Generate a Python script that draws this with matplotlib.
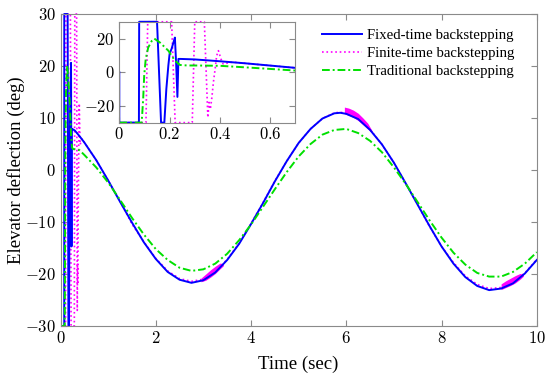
import matplotlib
matplotlib.use('Agg')
import matplotlib.pyplot as plt
from matplotlib.ticker import FuncFormatter
from matplotlib.transforms import Bbox, TransformedBbox

plt.rcParams['font.family'] = ['Liberation Serif', 'DejaVu Serif']
plt.rcParams['mathtext.fontset'] = 'cm'

# Fixed-time backstepping (blue): start transient + main response
t_fixed = [0, 0, 0.078, 0.079, 0.150, 0.158, 0.166, 0.179, 0.187, 0.195, 0.200,
           0.208, 0.215, 0.221, 0.226, 0.231, 0.235, 0.243, 0.3, 0.4,
           0.5, 0.75, 1.0, 1.25, 1.5, 1.75, 2.0, 2.25, 2.5, 2.75, 3.0, 3.25, 3.5,
           3.75, 4.0, 4.25, 4.5, 4.75, 5.0, 5.25, 5.5, 5.75, 5.875, 6.0, 6.25, 6.5,
           6.75, 7.0, 7.25, 7.5, 7.75, 8.0, 8.25, 8.5, 8.75, 9.0, 9.25, 9.5, 9.75, 10.0]
y_fixed = [0, -30, -30, 30, 30, 0, -30, -30, -10, 4, 11,
           14, 17.6, 20.6, 5, -14.7, 7.9, 7.9, 7.6, 6.5,
           5.3, 1.9, -2.0, -6.1, -10.1, -13.9, -17.1, -19.6, -21.1, -21.7, -21.2, -19.7, -17.3,
           -14.2, -10.4, -6.4, -2.2, 1.7, 5.2, 7.9, 9.9, 10.9, 11.0, 10.8, 9.8, 7.7,
           4.9, 1.4, -2.6, -6.7, -10.8, -14.7, -18.0, -20.6, -22.3, -23.1, -22.8, -21.8, -19.9, -17.3]

# Finite-time backstepping (magenta)
t_finite = [0, 0.106, 0.113, 0.208, 0.222, 0.29, 0.30, 0.338, 0.352, 0.357, 0.362,
            0.368, 0.374, 0.381, 0.387, 0.394, 0.404, 0.413, 0.45,
            0.5, 0.75, 1.0, 1.25, 1.5, 1.75, 2.0, 2.25, 2.5, 2.75, 3.0, 3.25, 3.5,
            3.75, 4.0, 4.25, 4.5, 4.75, 5.0, 5.25, 5.5, 5.75, 5.875, 6.0, 6.25, 6.5,
            6.75, 7.0, 7.25, 7.5, 7.75, 8.0, 8.25, 8.5, 8.75, 9.0, 9.25, 9.5, 9.75, 10.0]
y_finite = [-30, -30, 30, 30, -30, -30, 30, 30, -27, -18, -22,
            -15, -6, 2, 9.8, 12.8, 7.9, 4.9, 6.0,
            5.3, 1.9, -2.0, -6.0, -10.4, -13.8, -17.0, -19.4, -20.9, -21.4, -21.0, -19.5, -17.2,
            -14.1, -10.3, -6.3, -2.1, 1.7, 5.2, 7.9, 9.9, 11.0, 11.1, 10.9, 9.9, 7.8,
            4.9, 1.4, -2.6, -6.7, -10.9, -14.7, -17.8, -20.4, -22.0, -22.8, -22.6, -21.6, -19.8, -17.2]

# chattering envelopes of the finite-time controller
chat_t1 = [2.95, 3.05, 3.15, 3.25, 3.35, 3.42]
chat_lo1 = [-21.5, -21.2, -20.6, -19.9, -19.0, -18.4]
chat_hi1 = [-20.8, -20.0, -19.2, -18.5, -17.9, -18.1]
chat_t2 = [5.96, 6.05, 6.15, 6.25, 6.35, 6.45, 6.55]
chat_lo2 = [10.8, 10.5, 10.1, 9.5, 8.7, 7.9, 7.1]
chat_hi2 = [12.1, 11.9, 11.5, 10.9, 10.0, 9.0, 7.4]
chat_t3 = [9.25, 9.35, 9.45, 9.55, 9.65, 9.72]
chat_lo3 = [-23.0, -22.6, -22.2, -21.7, -21.0, -20.4]
chat_hi3 = [-21.9, -21.3, -20.8, -20.3, -19.9, -20.1]

# Traditional backstepping (green)
t_trad = [0, 0.089, 0.095, 0.099, 0.105, 0.115, 0.129, 0.139, 0.162, 0.195,
          0.221, 0.241, 0.271, 0.3, 0.4,
          0.5, 0.75, 1.0, 1.25, 1.5, 1.75, 2.0, 2.25, 2.5, 2.75, 3.0, 3.25, 3.5,
          3.75, 4.0, 4.25, 4.5, 4.75, 5.0, 5.25, 5.5, 5.75, 6.0, 6.25, 6.5,
          6.75, 7.0, 7.25, 7.5, 7.75, 8.0, 8.25, 8.5, 8.75, 9.0, 9.25, 9.5, 9.75, 10.0]
y_trad = [-30, -30, -15.6, -2, 7.9, 14.7, 18.6, 20, 17.6, 12.8,
          6.9, 4.3, 4.0, 4.0, 3.8,
          2.9, 0.5, -2.4, -5.75, -9.2, -12.4, -15.2, -17.3, -18.8, -19.4, -19.1, -18.0, -16.1,
          -13.5, -10.5, -7.1, -3.7, -0.4, 2.6, 5.0, 6.8, 7.7, 7.9, 7.1, 5.6,
          3.4, 0.5, -2.7, -6.2, -9.7, -13.0, -15.9, -18.2, -19.8, -20.5, -20.5, -19.6, -18.0, -15.8]

labels = ['Fixed-time backstepping', 'Finite-time backstepping', 'Traditional backstepping']
blue, magenta, green = '#0000ff', '#ff00ff', '#00e000'
dashdot = (0, (4, 1.5, 1, 1.5))
edge = '#8a8a8a'
math_fmt = FuncFormatter(lambda v, _: f'${v:g}$')


def draw_lines(ax):
    # let lines sitting on the +/-30 limits show fully, MATLAB style
    clip = TransformedBbox(Bbox([[0, -0.015], [1, 1.015]]), ax.transAxes)
    lines = []
    lines += ax.plot(t_finite, y_finite, color=magenta, ls=':', lw=1.2, zorder=2, label=labels[1])
    lines += ax.plot(t_fixed, y_fixed, color=blue, ls='-', lw=1.4, zorder=3, label=labels[0])
    lines += ax.plot(t_trad, y_trad, color=green, ls=dashdot, lw=1.4, zorder=4, label=labels[2])
    for ln in lines:
        ln.set_clip_box(clip)


def style_axes(ax, size):
    for s in ax.spines.values():
        s.set_color(edge)
        s.set_linewidth(0.8)
        s.set_zorder(5)
    ax.tick_params(direction='in', top=True, right=True, color=edge,
                   labelsize=size, length=4, width=0.8)
    ax.xaxis.set_major_formatter(math_fmt)
    ax.yaxis.set_major_formatter(math_fmt)


fig = plt.figure(figsize=(5.5, 3.82), dpi=100)
ax = fig.add_axes([0.110, 0.1466, 0.866, 0.8168])
draw_lines(ax)
for ct, lo, hi in [(chat_t1, chat_lo1, chat_hi1), (chat_t2, chat_lo2, chat_hi2),
                   (chat_t3, chat_lo3, chat_hi3)]:
    ax.fill_between(ct, lo, hi, color=magenta, lw=0, zorder=2.5)
ax.set_xlim(0, 10)
ax.set_ylim(-30, 30)
ax.set_xticks([0, 2, 4, 6, 8, 10])
ax.set_yticks([-30, -20, -10, 0, 10, 20, 30])
style_axes(ax, 12)
ax.set_xlabel('Time (sec)', fontsize=13.5)
ax.xaxis.set_label_coords(0.5, -0.095)
ax.set_ylabel('Elevator deflection (deg)', fontsize=13.5)
ax.yaxis.set_label_coords(-0.074, 0.5)

handles, labs = ax.get_legend_handles_labels()
order = [1, 0, 2]
fig.legend([handles[i] for i in order], [labs[i] for i in order],
           loc='upper left', bbox_to_anchor=(0.585, 0.925), bbox_transform=fig.transFigure,
           frameon=False, fontsize=10.6, handlelength=2.75, handletextpad=0.3,
           labelspacing=0.33, borderpad=0, borderaxespad=0)

ins = fig.add_axes([0.2169, 0.679, 0.3202, 0.264])
ins.set_facecolor('white')
draw_lines(ins)
ins.set_xlim(0, 0.7)
ins.set_ylim(-30, 30)
ins.set_xticks([0, 0.2, 0.4, 0.6])
ins.set_yticks([-20, 0, 20])
style_axes(ins, 12)

fig.savefig('out.png', dpi=100)
